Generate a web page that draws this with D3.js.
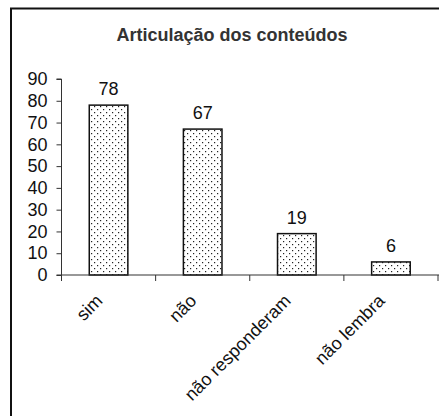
<!DOCTYPE html>
<html>
<head>
<meta charset="utf-8">
<script src="https://cdn.jsdelivr.net/npm/d3@7"></script>
<style>
  body { margin: 0; background: #fff; }
  svg { display: block; }
  text { font-family: "Liberation Sans", Arial, sans-serif; fill: #111; }
</style>
</head>
<body>
<div id="chart"></div>
<script>
// data
var categories = ["sim", "não", "não responderam", "não lembra"];
var values = [78, 67, 19, 6];
var yTicks = [0, 10, 20, 30, 40, 50, 60, 70, 80, 90];
var title = "Articulação dos conteúdos";

var width = 439, height = 416;
var margin = {left: 61.5, right: 1, top: 79, bottom: 141};

var svg = d3.select("#chart").append("svg")
    .attr("width", width)
    .attr("height", height);

// dotted fill
var defs = svg.append("defs");
var pat = defs.append("pattern")
    .attr("id", "dots")
    .attr("patternUnits", "userSpaceOnUse")
    .attr("width", 6)
    .attr("height", 6);
pat.append("rect").attr("width", 6).attr("height", 6).attr("fill", "#fff");
pat.append("rect").attr("x", 1).attr("y", 1).attr("width", 1.2).attr("height", 1.2).attr("fill", "#222");
pat.append("rect").attr("x", 4).attr("y", 4).attr("width", 1.2).attr("height", 1.2).attr("fill", "#222");

// outer frame (runs off the right/bottom edges)
svg.append("rect")
    .attr("x", 11).attr("y", 8.5)
    .attr("width", 460).attr("height", 440)
    .attr("fill", "none")
    .attr("stroke", "#111")
    .attr("stroke-width", 2);

svg.append("text")
    .attr("x", 232)
    .attr("y", 41)
    .attr("text-anchor", "middle")
    .style("font-size", "18px")
    .style("font-weight", "bold")
    .style("fill", "#333")
    .text(title);

var x = d3.scaleBand()
    .domain(categories)
    .range([margin.left, width - margin.right])
    .paddingInner(0)
    .paddingOuter(0);

var y = d3.scaleLinear()
    .domain([0, 90])
    .range([height - margin.bottom, margin.top]);

var barW = x.bandwidth() * 0.41;

var g = svg.append("g");

g.selectAll("rect.bar")
    .data(values)
    .enter().append("rect")
      .attr("class", "bar")
      .attr("x", function(d, i) { return x(categories[i]) + x.bandwidth() / 2 - barW / 2; })
      .attr("y", function(d) { return y(d); })
      .attr("width", barW)
      .attr("height", function(d) { return y(0) - y(d); })
      .attr("fill", "url(#dots)")
      .attr("stroke", "#111")
      .attr("stroke-width", 1.5);

g.selectAll("text.val")
    .data(values)
    .enter().append("text")
      .attr("class", "val")
      .attr("x", function(d, i) { return x(categories[i]) + x.bandwidth() / 2; })
      .attr("y", function(d) { return y(d) - 10; })
      .attr("text-anchor", "middle")
      .style("font-size", "18px")
      .text(function(d) { return d; });

// y axis
var yAxis = d3.axisLeft(y).tickValues(yTicks).tickSize(5).tickPadding(9);
var ya = svg.append("g")
    .attr("transform", "translate(" + margin.left + ",0)")
    .call(yAxis);
ya.select(".domain").attr("stroke", "#333").attr("d", "M-5," + y(90) + "H0V" + y(0));
ya.selectAll(".tick line").attr("stroke", "#333");
ya.selectAll(".tick text")
    .style("font-size", "18px")
    .style("font-family", "Liberation Sans, Arial, sans-serif")
    .attr("fill", "#111");

// x axis
var xa = svg.append("g")
    .attr("transform", "translate(0," + y(0) + ")");
xa.append("line")
    .attr("x1", margin.left - 5).attr("x2", width)
    .attr("stroke", "#333").attr("stroke-width", 1.2);
var edges = categories.map(function(c) { return x(c); }).concat([x(categories[categories.length - 1]) + x.bandwidth()]);
xa.selectAll("line.tk")
    .data(edges)
    .enter().append("line")
      .attr("class", "tk")
      .attr("x1", function(d) { return d; })
      .attr("x2", function(d) { return d; })
      .attr("y1", 0).attr("y2", 6)
      .attr("stroke", "#333");

xa.selectAll("text.cat")
    .data(categories)
    .enter().append("text")
      .attr("class", "cat")
      .attr("text-anchor", "end")
      .attr("transform", function(d) {
        return "translate(" + (x(d) + x.bandwidth() / 2 - 5) + ",27) rotate(-45)";
      })
      .style("font-size", "18px")
      .text(function(d) { return d; });
</script>
</body>
</html>
